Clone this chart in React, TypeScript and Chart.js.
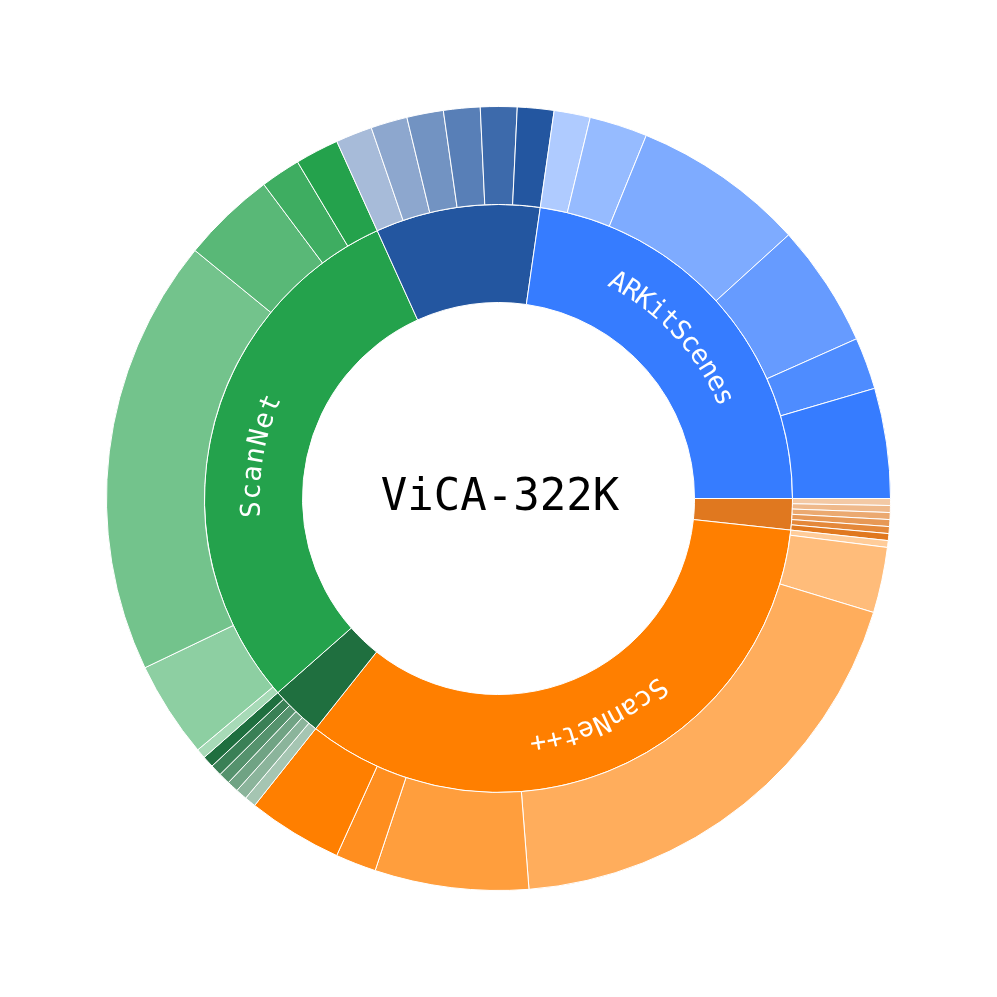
import React, { useEffect, useRef } from 'react';
import { Chart, ArcElement, DoughnutController } from 'chart.js';

Chart.register(ArcElement, DoughnutController);

// Groups in clockwise order starting at 3 o'clock
const groupNames = [
  'ScanNet++ (complex)',
  'ScanNet++',
  'ScanNet (complex)',
  'ScanNet',
  'ARKitScenes (complex)',
  'ARKitScenes',
];
const ringLabels = ['', 'ScanNet++', '', 'ScanNet', '', 'ARKitScenes'];
const groupColors = ['#E0781F', '#FF7F00', '#1F6F3F', '#24A24C', '#2356A0', '#367CFF'];

// Samples (thousands) per sub-task, per group
const scannetppComplex = [0.92, 0.92, 0.92, 0.92, 0.92, 0.92];
const scannetpp = [0.9, 8.7, 61.4, 20.4, 5.4, 12.6];
const scannetComplex = [1.52, 1.52, 1.52, 1.52, 1.52, 1.52];
const scannet = [1.3, 12.8, 58.0, 12.5, 5.3, 5.8];
const arkitComplex = [4.85, 4.85, 4.85, 4.85, 4.85, 4.85];
const arkit = [4.8, 7.7, 22.9, 16.3, 6.9, 14.6];

const centerTitle = 'ViCA-322K';

const groupSeries = [scannetppComplex, scannetpp, scannetComplex, scannet, arkitComplex, arkit];
const shadeLevels = [0.4, 0.52, 0.64, 0.76, 0.88, 1.0];

function tint(hex: string, a: number): string {
  const n = parseInt(hex.slice(1), 16);
  const r = (n >> 16) & 255;
  const g = (n >> 8) & 255;
  const b = n & 255;
  const m = (c: number) => Math.round(255 - a * (255 - c));
  return `rgb(${m(r)},${m(g)},${m(b)})`;
}

const innerValues = groupSeries.map((s) => s.reduce((p, c) => p + c, 0));
const outerValues: number[] = [];
const outerColors: string[] = [];
const outerLabels: string[] = [];
groupSeries.forEach((s, gi) => {
  s.forEach((v, k) => {
    outerValues.push(v);
    outerColors.push(tint(groupColors[gi], shadeLevels[k]));
    outerLabels.push(`${groupNames[gi]} ${k + 1}`);
  });
});

// letter pitch (px along the arc) used for the curved ring labels
const letterPitch: Record<string, number> = { 'ScanNet++': 16.5, ScanNet: 18, ARKitScenes: 15.8 };

const labelPlugin = {
  id: 'sunburstLabels',
  afterDatasetsDraw(chart: any) {
    const ctx = chart.ctx as CanvasRenderingContext2D;
    const meta = chart.getDatasetMeta(1);
    ctx.save();
    let cx = 0;
    let cy = 0;
    meta.data.forEach((arc: any, i: number) => {
      const p = arc.getProps(['x', 'y', 'startAngle', 'endAngle', 'innerRadius', 'outerRadius'], true);
      cx = p.x;
      cy = p.y;
      const text = ringLabels[i];
      if (!text) return;
      const r = (p.innerRadius + p.outerRadius) / 2 + 1;
      ctx.font = '27px "DejaVu Sans Mono"';
      ctx.fillStyle = '#ffffff';
      ctx.textAlign = 'center';
      ctx.textBaseline = 'middle';
      const chars = Array.from(text);
      const step = (letterPitch[text] || ctx.measureText('M').width) / r;
      const mid = (p.startAngle + p.endAngle) / 2;
      const a0 = mid - (chars.length * step) / 2;
      chars.forEach((ch, k) => {
        const a = a0 + k * step;
        ctx.save();
        ctx.translate(p.x + r * Math.cos(a), p.y + r * Math.sin(a));
        ctx.rotate(a + Math.PI / 2);
        ctx.fillText(ch, 0, 0);
        ctx.restore();
      });
    });
    ctx.font = '44px "DejaVu Sans Mono"';
    ctx.fillStyle = '#000000';
    ctx.textAlign = 'center';
    ctx.textBaseline = 'alphabetic';
    ctx.fillText(centerTitle, cx + 1.5, cy + 11.5);
    ctx.restore();
  },
};

export default function App() {
  const ref = useRef<HTMLCanvasElement | null>(null);
  useEffect(() => {
    if (!ref.current) return;
    const chart = new Chart(ref.current, {
      type: 'doughnut',
      data: {
        labels: outerLabels,
        datasets: [
          {
            data: outerValues,
            backgroundColor: outerColors,
            borderColor: '#ffffff',
            borderWidth: 1,
          },
          {
            data: innerValues,
            backgroundColor: groupColors,
            borderColor: '#ffffff',
            borderWidth: 1,
          },
        ],
      },
      options: {
        animation: false,
        responsive: true,
        maintainAspectRatio: false,
        rotation: 90,
        cutout: '50%',
        layout: { padding: 98 },
        plugins: {
          legend: { display: false },
          tooltip: { enabled: false },
        },
      },
      plugins: [labelPlugin],
    });
    return () => chart.destroy();
  }, []);
  return (
    <div style={{ width: 981, height: 981, position: 'relative' }}>
      <canvas ref={ref} />
    </div>
  );
}
